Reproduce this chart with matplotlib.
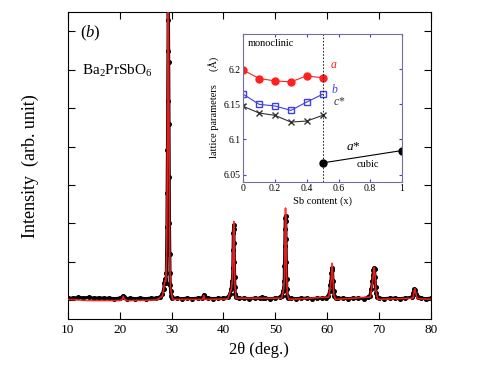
import matplotlib
matplotlib.use('Agg')
import matplotlib.pyplot as plt

plt.rcParams['font.family'] = ['Liberation Serif', 'DejaVu Serif']
plt.rcParams['mathtext.fontset'] = 'custom'
plt.rcParams['mathtext.rm'] = 'Liberation Serif'
plt.rcParams['mathtext.it'] = 'Liberation Serif:italic'

# observed XRD pattern (2theta, intensity in tick units)
tt_obs = [10, 11, 12, 13, 14, 15, 16, 17, 18, 19, 20, 20.5, 20.7, 20.9, 21.5, 22, 23, 24, 25, 26, 27,
          27.8, 28.2, 28.5, 28.6, 28.7, 28.8, 28.9, 29.0, 29.05, 29.1, 29.15, 29.2, 29.25, 29.3, 29.35,
          29.4, 29.45, 29.5, 29.55, 29.6, 29.65, 29.7, 29.75, 29.8, 29.9, 30.1, 31, 32, 33, 34, 35,
          35.9, 36.2, 36.4, 37, 38, 39, 40, 40.8, 41.2, 41.5, 41.6, 41.7, 41.75, 41.8, 41.85, 41.9,
          41.95, 42.0, 42.05, 42.1, 42.15, 42.2, 42.3, 42.5, 43, 44, 45, 46, 47, 47.4, 47.6, 48, 49, 50,
          50.8, 51.2, 51.5, 51.6, 51.7, 51.75, 51.8, 51.85, 51.9, 51.95, 52.0, 52.05, 52.1, 52.15, 52.2,
          52.3, 52.5, 53, 54, 55, 56, 57, 58, 59, 59.8, 60.2, 60.5, 60.6, 60.7, 60.8, 60.9, 61.0, 61.1,
          61.2, 61.3, 61.6, 62, 63, 64, 65, 66, 67, 67.8, 68.2, 68.5, 68.7, 68.8, 68.9, 69.0, 69.1,
          69.2, 69.3, 69.4, 69.6, 70, 71, 72, 73, 74, 75, 76.3, 76.6, 76.8, 76.9, 77.1, 77.4, 78, 79, 80]
i_obs = [0.06, 0.05, 0.07, 0.06, 0.07, 0.05, 0.06, 0.05, 0.05, 0.04, 0.05, 0.08, 0.12, 0.07, 0.04, 0.05, 0.04, 0.05, 0.04, 0.05, 0.05,
         0.08, 0.15, 0.3, 0.45, 0.55, 0.5, 0.45, 0.7, 1.2, 1.9, 2.8, 3.9, 5.2, 6.5, 7.6,
         7.3, 6.2, 4.6, 3.2, 2.0, 1.2, 0.7, 0.4, 0.25, 0.12, 0.06, 0.05, 0.04, 0.05, 0.04, 0.05,
         0.06, 0.14, 0.07, 0.05, 0.04, 0.05, 0.05, 0.07, 0.15, 0.3, 0.45, 0.5, 0.6, 0.85, 1.3, 1.75,
         1.95, 1.85, 1.5, 1.0, 0.6, 0.35, 0.15, 0.07, 0.05, 0.05, 0.04, 0.05, 0.05, 0.08, 0.05, 0.05, 0.04, 0.05,
         0.07, 0.12, 0.25, 0.32, 0.5, 0.9, 1.4, 1.85, 2.15, 2.2, 2.05, 1.6, 1.0, 0.55, 0.3,
         0.12, 0.06, 0.05, 0.04, 0.05, 0.05, 0.04, 0.05, 0.05, 0.06, 0.12, 0.25, 0.4, 0.5, 0.7, 0.85, 0.78, 0.5,
         0.25, 0.12, 0.06, 0.05, 0.05, 0.04, 0.05, 0.05, 0.04, 0.07, 0.12, 0.3, 0.5, 0.65, 0.78, 0.83, 0.8,
         0.6, 0.35, 0.18, 0.08, 0.05, 0.04, 0.05, 0.05, 0.04, 0.05, 0.08, 0.18, 0.28, 0.27, 0.15, 0.07, 0.05, 0.04, 0.05]

# calculated profile
tt_calc = [10, 14, 20, 20.5, 20.7, 20.9, 21.5, 27, 28.2, 28.5, 28.7, 28.9, 29.05, 29.15, 29.25, 29.35,
           29.45, 29.55, 29.65, 29.8, 30.2, 36.0, 36.2, 36.4, 40.8, 41.5, 41.7, 41.8, 41.9, 42.0,
           42.1, 42.2, 42.4, 51.2, 51.6, 51.75, 51.85, 51.95, 52.05, 52.15, 52.3, 52.6, 60.3, 60.6,
           60.8, 60.95, 61.1, 61.25, 61.6, 68.3, 68.7, 68.9, 69.05, 69.2, 69.35, 69.7, 76.5, 76.75,
           76.85, 77.0, 77.3, 80]
i_calc = [0.02, -0.01, -0.01, 0.02, 0.1, 0.02, -0.01, 0.0, 0.1, 0.3, 0.5, 0.5, 1.2, 3.0, 5.8, 7.9,
          6.0, 3.2, 1.2, 0.3, 0.02, 0.02, 0.12, 0.02, 0.03, 0.28, 0.5, 0.9, 1.8, 2.05,
          1.2, 0.4, 0.05, 0.05, 0.3, 0.6, 1.7, 2.4, 2.0, 0.7, 0.15, 0.02, 0.08, 0.35,
          0.6, 0.96, 0.55, 0.15, 0.02, 0.08, 0.45, 0.7, 0.85, 0.65, 0.25, 0.02, 0.05, 0.25,
          0.3, 0.22, 0.04, 0.02]

# inset: lattice parameters vs Sb content
x_mono = [0, 0.1, 0.2, 0.3, 0.4, 0.5]
a_mono = [6.1986, 6.1867, 6.1833, 6.1819, 6.1905, 6.1876]
b_mono = [6.1643, 6.1500, 6.1476, 6.1414, 6.1533, 6.1643]
c_mono = [6.1471, 6.1376, 6.1343, 6.1248, 6.1262, 6.1343]
x_cub = [0.5, 1.0]
a_cub = [6.0667, 6.0843]

fig = plt.figure(figsize=(4.91, 3.68), dpi=100)
ax = fig.add_axes([0.138, 0.1323, 0.740, 0.8343])

ax.plot(tt_obs, i_obs, color='black', lw=2.2, marker='o', ms=2.6, zorder=2)
ax.plot(tt_calc, i_calc, color='#ff2020', lw=1.2, alpha=0.9, zorder=3)

ax.set_xlim(10, 80)
ax.set_ylim(-0.5, 7.5)
ax.set_xticks(range(10, 81, 10))
ax.set_yticks(range(0, 8))
ax.set_yticklabels([])
ax.tick_params(direction='in', top=True, right=True, length=5, labelsize=9.5)
ax.set_xlabel('2θ (deg.)', fontsize=12, labelpad=4, x=0.527)
ax.set_ylabel('Intensity  (arb. unit)', fontsize=13, labelpad=17)
ax.text(12.4, 6.95, '($b$)', fontsize=12, va='center')
ax.text(12.7, 5.86, 'Ba$_2$PrSbO$_6$', fontsize=11, va='baseline')

# inset
ins = fig.add_axes([0.4955, 0.5063, 0.3232, 0.4013])
ins.plot(x_mono, a_mono, color='#ff2020', lw=0.8, marker='o', ms=5)
ins.plot(x_mono, b_mono, color='#4040e0', lw=0.8, marker='s', ms=5, mfc='none')
ins.plot(x_mono, c_mono, color='#333333', lw=0.8, marker='x', ms=5)
ins.plot(x_cub, a_cub, color='black', lw=0.8, marker='o', ms=5)
ins.axvline(0.5, color='black', lw=0.6, ls=(0, (2, 2)))
ins.set_xlim(0, 1)
ins.set_ylim(6.04, 6.25)
ins.set_xticks([0, 0.2, 0.4, 0.6, 0.8, 1])
ins.set_xticklabels(['0', '0.2', '0.4', '0.6', '0.8', '1'])
ins.set_yticks([6.05, 6.1, 6.15, 6.2])
ins.set_yticklabels(['6.05', '6.1', '6.15', '6.2'])
ins.tick_params(direction='in', top=True, right=True, length=2.5, labelsize=7, color='#4040e0', pad=2)
for s in ins.spines.values():
    s.set_color('#7070a0')
    s.set_linewidth(0.8)
ins.set_xlabel('Sb content (x)', fontsize=7.5, labelpad=2)
ins.set_ylabel('lattice parameters     (Å)', fontsize=7.5, labelpad=3)
ins.text(0.03, 6.237, 'monoclinic', fontsize=7.5, va='center')
ins.text(0.546, 6.206, '$a$', fontsize=8.5, color='#ff2020', va='center')
ins.text(0.553, 6.171, '$b$', fontsize=8.5, color='#4040e0', va='center')
ins.text(0.567, 6.154, '$c$*', fontsize=8.5, color='#333333', va='center')
ins.text(0.647, 6.09, '$a$*', fontsize=9.5, color='black', va='center')
ins.text(0.784, 6.0639, 'cubic', fontsize=7.5, va='center', ha='center')

fig.savefig('out.png', dpi=100)
